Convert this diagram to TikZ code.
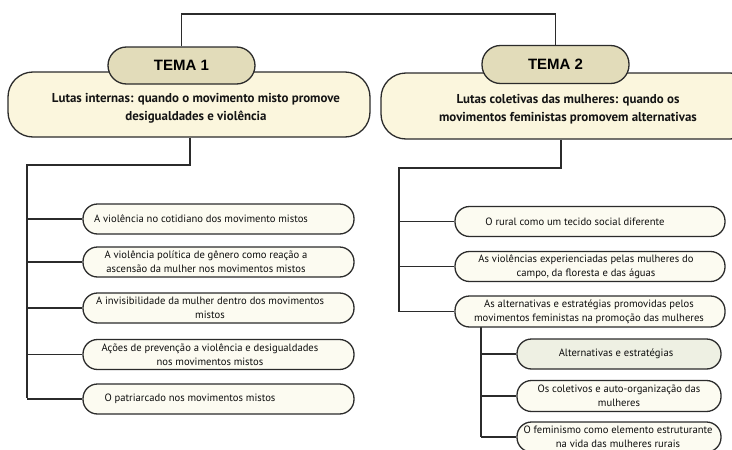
\documentclass[tikz,border=0pt]{standalone}
\usepackage{fontspec}
\setmainfont{PT Sans}
\newfontfamily\temafont{Liberation Sans}
\definecolor{linec}{HTML}{2B2B2B}
\definecolor{bigfill}{HTML}{FBF6DD}
\definecolor{temafill}{HTML}{E2DCBA}
\definecolor{leaffill}{HTML}{FCFBF1}
\definecolor{subfill}{HTML}{EEF0E3}
\tikzset{
  conn/.style={draw=linec, line width=1.4pt},
  bigbox/.style={draw=linec, line width=1.3pt, fill=bigfill, rounded corners=25pt, inner sep=0pt},
  temabox/.style={draw=linec, line width=1.3pt, fill=temafill, rounded corners=18.5pt, inner sep=0pt, minimum width=147pt, font=\temafont\bfseries\fontsize{15}{18}\selectfont},
  leafbox/.style={draw=linec, line width=1.3pt, fill=leaffill, rounded corners=14.5pt, inner sep=0pt, minimum height=30pt},
  bigtext/.style={align=center, font=\bfseries\fontsize{12.9}{18}\selectfont, text=black!92},
  leaftext/.style={align=center, font=\fontsize{10.6}{14}\selectfont, text=black!95, inner sep=0pt},
}
\begin{document}
\begin{tikzpicture}[x=1pt,y=-1pt]
\useasboundingbox (0,0) rectangle (732,450);
\coordinate (c1) at (27,165);
\coordinate (c2) at (399,168);
\coordinate (toprow) at (0,14);
\node[bigbox, minimum width=362pt, minimum height=65pt] (b1) at (189,104.5) {};
\node[bigbox, minimum width=374pt, minimum height=66pt] (b2) at (568,106) {};
\node[temabox, minimum height=37pt] (t1) at (181.5,65.5) {TEMA 1};
\node[temabox, minimum height=38pt] (t2) at (555.5,64.5) {TEMA 2};
\node[bigtext] (b1t) at (196,108) {Lutas internas: quando o movimento misto promove\\desigualdades e violência};
\node[bigtext] (b2t) at (568,109) {Lutas coletivas das mulheres: quando os\\movimentos feministas promovem alternativas};
% connectors
\draw[conn] (t1.north) |- (t2.north |- toprow) -- (t2.north);
\draw[conn] ([xshift=1pt]b1.south) |- (c1) -- (27,398);
\draw[conn] ([xshift=-7pt]b2.south) |- (c2) -- (399,311.5);
\draw[conn] (481,327) -- (481,437);
% left leaves
\node[leafbox, minimum width=271pt] (l1) at (218.5,219) {};
\node[leafbox, minimum width=271pt] (l2) at (218.5,262) {};
\node[leafbox, minimum width=271pt] (l3) at (218.5,308) {};
\node[leafbox, minimum width=271pt] (l4) at (218.5,354.5) {};
\node[leafbox, minimum width=271pt] (l5) at (218.5,399) {};
\draw[conn] (c1 |- l1.west) -- (l1.west);
\draw[conn] (c1 |- l2.west) -- (l2.west);
\draw[conn] (c1 |- l3.west) -- (l3.west);
\draw[conn] (c1 |- l4.west) -- (l4.west);
\draw[conn] (c1 |- l5.west) -- (l5.west);
\node[leaftext] (l1t) at (201,219) {A violência no cotidiano dos movimento mistos};
\node[leaftext] (l2t) at (206,262) {A violência política de gênero como reação a\\ascensão da mulher nos movimentos mistos};
\node[leaftext] (l3t) at (210,308) {A invisibilidade da mulher dentro dos movimentos\\mistos};
\node[leaftext] (l4t) at (210,354.5) {Ações de prevenção a violência e desigualdades\\nos movimentos mistos};
\node[leaftext] (l5t) at (190,399) {O patriarcado nos movimentos mistos};
% right leaves
\node[leafbox, minimum width=270pt] (r1) at (590,221.5) {};
\node[leafbox, minimum width=270pt] (r2) at (590,266.5) {};
\node[leafbox, minimum width=270pt, minimum height=31pt] (r3) at (590,311.5) {};
\draw[conn] (c2 |- r1.west) -- (r1.west);
\draw[conn] (c2 |- r2.west) -- (r2.west);
\draw[conn] (c2 |- r3.west) -- (r3.west);
\node[leaftext] (r1t) at (575,221.5) {O rural como um tecido social diferente};
\node[leaftext] (r2t) at (586,266.5) {As violências experienciadas pelas mulheres do\\campo, da floresta e das águas};
\node[leaftext] (r3t) at (589,311.5) {As alternativas e estratégias promovidas pelos\\movimentos feministas na promoção das mulheres};
% sub leaves
\coordinate (c3) at (481,327);
\node[leafbox, minimum width=204pt, fill=subfill] (s1) at (619,354) {};
\node[leafbox, minimum width=204pt, minimum height=31pt] (s2) at (619,396) {};
\node[leafbox, minimum width=204pt] (s3) at (619,437) {};
\draw[conn] (c3 |- s1.west) -- (s1.west);
\draw[conn] (c3 |- s2.west) -- (s2.west);
\draw[conn] (c3 |- s3.west) -- (s3.west);
\node[leaftext] (s1t) at (616,354) {Alternativas e estratégias};
\node[leaftext] (s2t) at (619,396) {Os coletivos e auto-organização das\\mulheres};
\node[leaftext] (s3t) at (618,437) {O feminismo como elemento estruturante\\na vida das mulheres rurais};
\end{tikzpicture}
\end{document}
